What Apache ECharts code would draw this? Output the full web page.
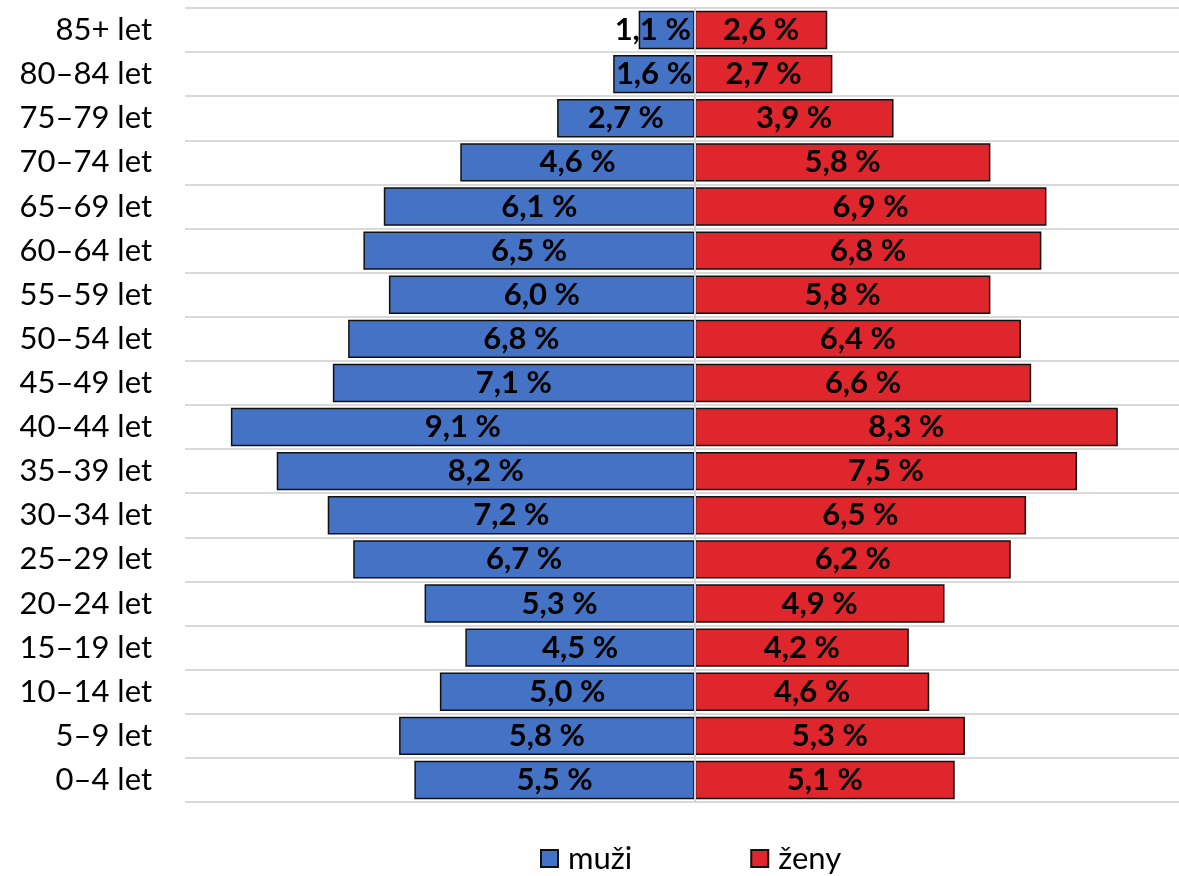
<!DOCTYPE html>
<html>
<head>
<meta charset="utf-8">
<script src="https://cdn.jsdelivr.net/npm/echarts@6/dist/echarts.min.js"></script>
<style>
  html, body { margin: 0; padding: 0; background: #fff; }
  #chart { width: 1179px; height: 876px; }
</style>
</head>
<body>
<div id="chart"></div>
<script>
// Age groups, youngest at the bottom
const ageGroups = ['0–4 let', '5–9 let', '10–14 let', '15–19 let', '20–24 let', '25–29 let',
  '30–34 let', '35–39 let', '40–44 let', '45–49 let', '50–54 let', '55–59 let',
  '60–64 let', '65–69 let', '70–74 let', '75–79 let', '80–84 let', '85+ let'];
// Share of population (%)
const men = [5.5, 5.8, 5.0, 4.5, 5.3, 6.7, 7.2, 8.2, 9.1, 7.1, 6.8, 6.0, 6.5, 6.1, 4.6, 2.7, 1.6, 1.1];
const women = [5.1, 5.3, 4.6, 4.2, 4.9, 6.2, 6.5, 7.5, 8.3, 6.6, 6.4, 5.8, 6.8, 6.9, 5.8, 3.9, 2.7, 2.6];

const FONT = 'Lato, "Open Sans", sans-serif';
const fmt = v => Math.abs(v).toFixed(1).replace('.', ',') + ' %';

// Very short bars: nudge the label outward so it stays readable
const menData = men.map(v => v < 1.5
  ? { value: -v, label: { offset: [-14, 0] } }
  : -v);

const chart = echarts.init(document.getElementById('chart'));
chart.setOption({
  animation: false,
  textStyle: { fontFamily: FONT },
  grid: { left: 185, right: 0, top: 8, bottom: 74, containLabel: false },
  xAxis: {
    type: 'value', min: -10, max: 9.5, show: false
  },
  yAxis: {
    type: 'category',
    data: ageGroups,
    axisLine: { show: false },
    axisTick: { show: false },
    axisLabel: { fontSize: 31, color: '#000', margin: 33, fontFamily: FONT },
    splitLine: { show: true, lineStyle: { color: '#D9D9D9', width: 2 } }
  },
  legend: {
    bottom: -3, left: 535,
    icon: 'rect', itemWidth: 17, itemHeight: 17, itemGap: 118,
    textStyle: { fontSize: 31, color: '#000', fontFamily: FONT, padding: [0, 0, 0, 5] },
    data: ['muži', 'ženy']
  },
  series: [
    {
      name: 'muži', type: 'bar', stack: 'pyr',
      barCategoryGap: '13%',
      data: menData,
      itemStyle: { color: '#4472C4', borderColor: '#111', borderWidth: 1.5 },
      label: {
        show: true, position: 'inside', formatter: p => fmt(p.value),
        fontSize: 31, fontWeight: 'bold', color: '#000', fontFamily: FONT
      },
      markLine: {
        silent: true, symbol: 'none', label: { show: false },
        lineStyle: { color: '#D0D0D0', width: 2, type: 'solid' },
        data: [{ xAxis: 0 }]
      }
    },
    {
      name: 'ženy', type: 'bar', stack: 'pyr',
      barCategoryGap: '13%',
      data: women,
      itemStyle: { color: '#E0262D', borderColor: '#111', borderWidth: 1.5 },
      label: {
        show: true, position: 'inside', formatter: p => fmt(p.value),
        fontSize: 31, fontWeight: 'bold', color: '#000', fontFamily: FONT
      }
    }
  ]
});
</script>
</body>
</html>
